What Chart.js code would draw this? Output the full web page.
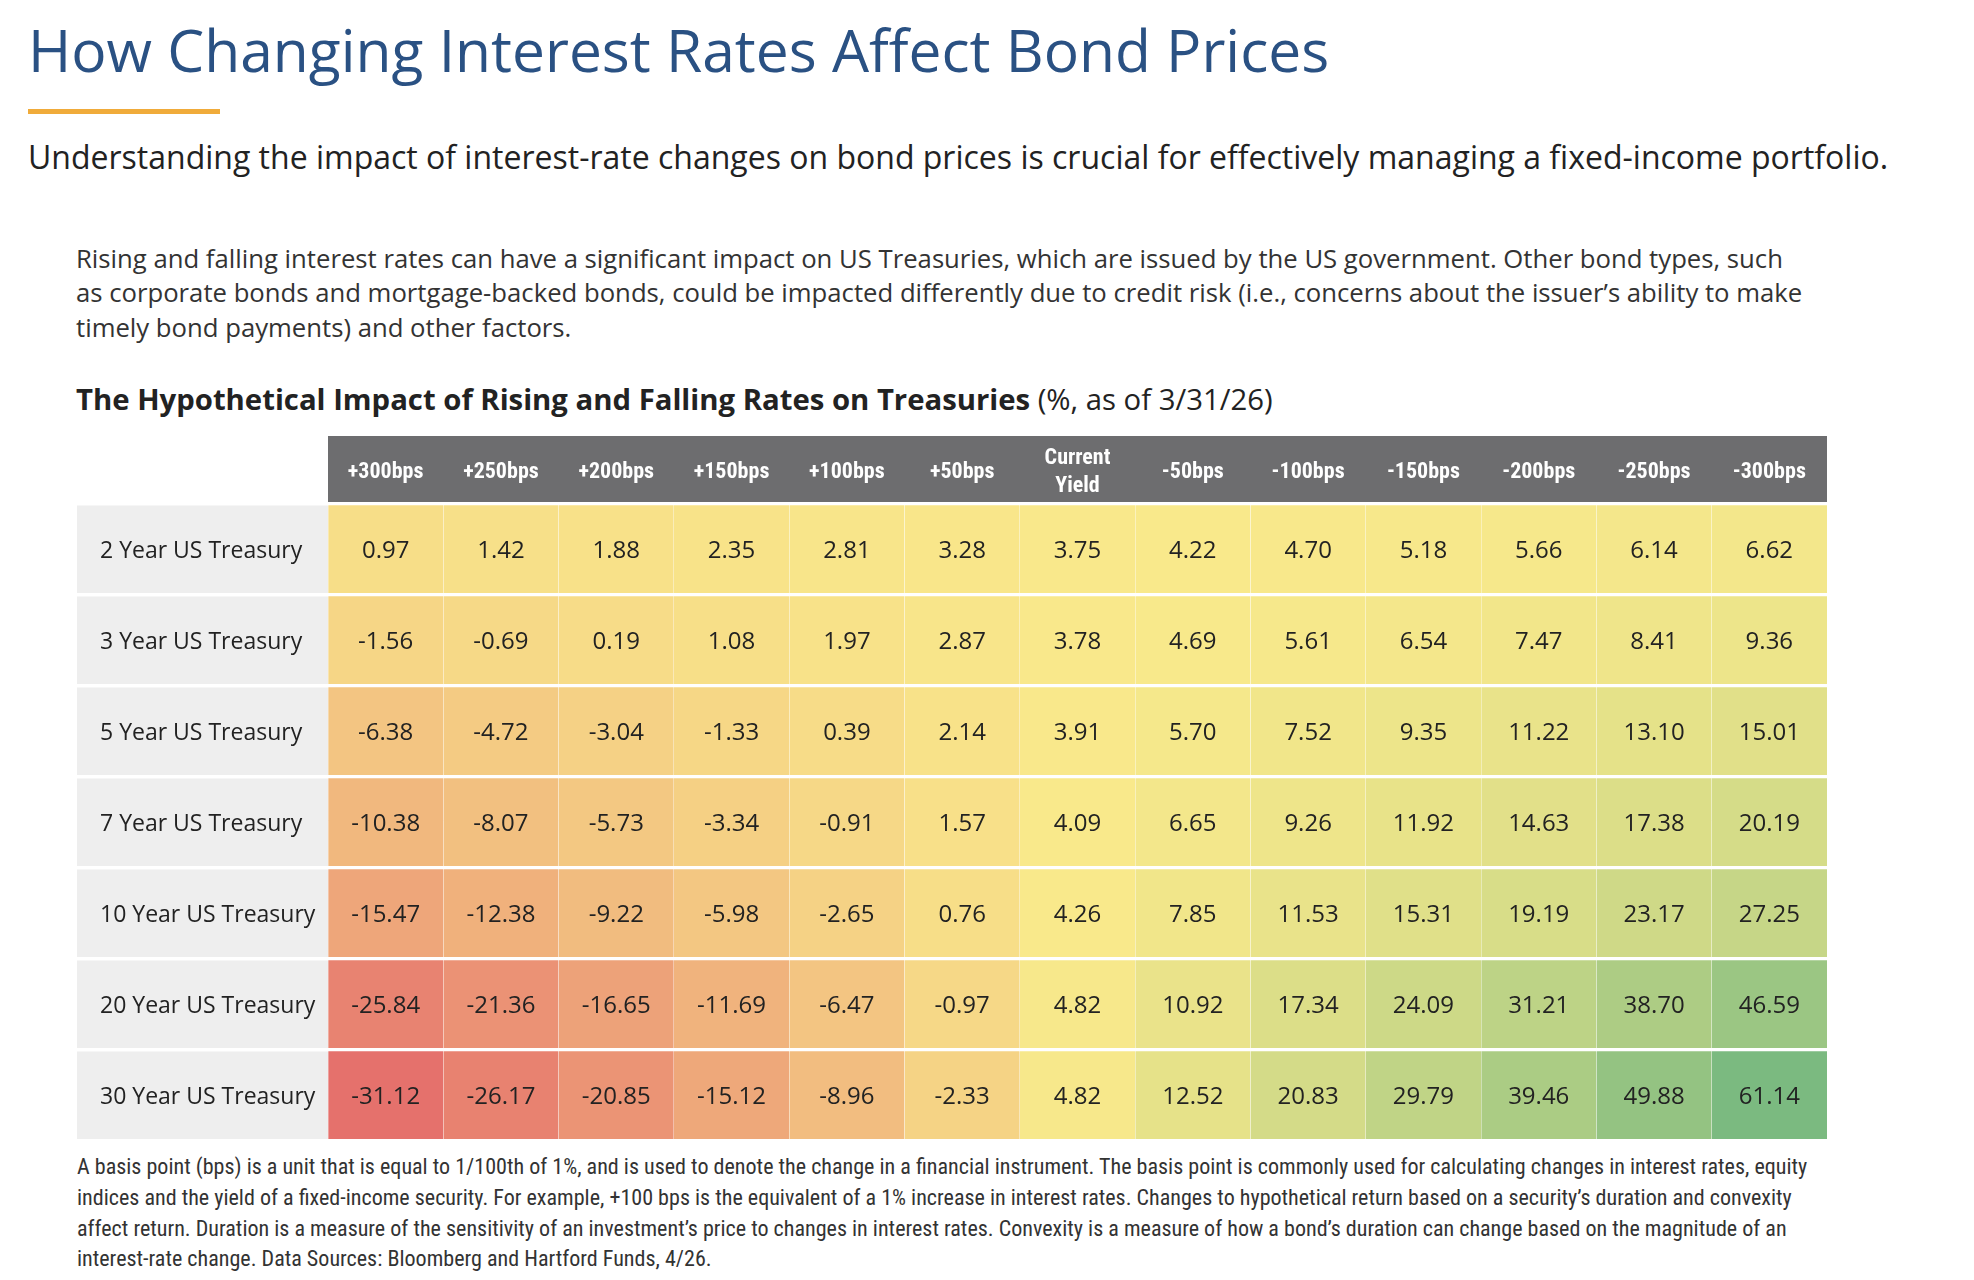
<!DOCTYPE html>
<html>
<head>
<meta charset="utf-8">
<script src="https://cdn.jsdelivr.net/npm/chart.js@4.4.1/dist/chart.umd.min.js"></script>
<style>
  html, body { margin: 0; padding: 0; background: #fff; }
  body { width: 1974px; height: 1280px; position: relative; overflow: hidden; font-family: 'Open Sans', sans-serif; }
  .txt { position: absolute; white-space: nowrap; line-height: normal; }
  #title { left: 28px; top: 9px; font-size: 58.7px; color: #2a5183; }
  #rule { position: absolute; left: 28px; top: 109px; width: 192px; height: 5px; background: #f0ab3a; }
  #subtitle { left: 28px; top: 135px; font-size: 32px; color: #222; }
  #intro { left: 76px; top: 241.5px; font-size: 25.7px; line-height: 34.5px; color: #333; }
  #heading { left: 76px; top: 378.5px; font-size: 29.3px; color: #222; }
  #heading b { font-weight: 700; }
  #note { left: 77px; top: 1152px; font-size: 22px; line-height: 30.8px; color: #333;
          font-family: Roboto, sans-serif; font-stretch: condensed; transform-origin: 0 0; }
  #chartBox { position: absolute; left: 0; top: 0; width: 1974px; height: 1280px; }
</style>
</head>
<body>
<div id="title" class="txt">How Changing Interest Rates Affect Bond Prices</div>
<div id="rule"></div>
<div id="subtitle" class="txt">Understanding the impact of interest-rate changes on bond prices is crucial for effectively managing a fixed-income portfolio.</div>
<div id="intro" class="txt">Rising and falling interest rates can have a significant impact on US Treasuries, which are issued by the US government. Other bond types, such<br>as corporate bonds and mortgage-backed bonds, could be impacted differently due to credit risk (i.e., concerns about the issuer’s ability to make<br>timely bond payments) and other factors.</div>
<div id="heading" class="txt"><b>The Hypothetical Impact of Rising and Falling Rates on Treasuries</b> (%, as of 3/31/26)</div>
<div id="note" class="txt">A basis point (bps) is a unit that is equal to 1/100th of 1%, and is used to denote the change in a financial instrument. The basis point is commonly used for calculating changes in interest rates, equity<br>indices and the yield of a fixed-income security. For example, +100 bps is the equivalent of a 1% increase in interest rates. Changes to hypothetical return based on a security’s duration and convexity<br>affect return. Duration is a measure of the sensitivity of an investment’s price to changes in interest rates. Convexity is a measure of how a bond’s duration can change based on the magnitude of an<br>interest-rate change. Data Sources: Bloomberg and Hartford Funds, 4/26.</div>
<div id="chartBox"><canvas id="grid" width="1974" height="1280"></canvas></div>

<script>
// rate scenarios (columns) and treasuries (rows)
const scenarios = ['+300bps', '+250bps', '+200bps', '+150bps', '+100bps', '+50bps', ['Current', 'Yield'],
  '-50bps', '-100bps', '-150bps', '-200bps', '-250bps', '-300bps'];
const treasuries = ['2 Year US Treasury', '3 Year US Treasury', '5 Year US Treasury', '7 Year US Treasury',
  '10 Year US Treasury', '20 Year US Treasury', '30 Year US Treasury'];

const year2 = [0.97, 1.42, 1.88, 2.35, 2.81, 3.28, 3.75, 4.22, 4.70, 5.18, 5.66, 6.14, 6.62];
const year3 = [-1.56, -0.69, 0.19, 1.08, 1.97, 2.87, 3.78, 4.69, 5.61, 6.54, 7.47, 8.41, 9.36];
const year5 = [-6.38, -4.72, -3.04, -1.33, 0.39, 2.14, 3.91, 5.70, 7.52, 9.35, 11.22, 13.10, 15.01];
const year7 = [-10.38, -8.07, -5.73, -3.34, -0.91, 1.57, 4.09, 6.65, 9.26, 11.92, 14.63, 17.38, 20.19];
const year10 = [-15.47, -12.38, -9.22, -5.98, -2.65, 0.76, 4.26, 7.85, 11.53, 15.31, 19.19, 23.17, 27.25];
const year20 = [-25.84, -21.36, -16.65, -11.69, -6.47, -0.97, 4.82, 10.92, 17.34, 24.09, 31.21, 38.70, 46.59];
const year30 = [-31.12, -26.17, -20.85, -15.12, -8.96, -2.33, 4.82, 12.52, 20.83, 29.79, 39.46, 49.88, 61.14];

const rows = [year2, year3, year5, year7, year10, year20, year30];

// three colour scale: lowest red, median yellow, highest green
const LOW = [229, 113, 108];
const MID = [249, 233, 139];
const HIGH = [123, 186, 128];
const GAP = 3.5;

const all = rows.flat().slice().sort((a, b) => a - b);
const vMin = all[0];
const vMax = all[all.length - 1];
const vMid = all[Math.floor(all.length / 2)];

function mix(a, b, t) {
  return 'rgb(' + a.map((c, i) => Math.round(c + (b[i] - c) * t)).join(',') + ')';
}
function cellColor(v) {
  if (v <= vMid) return mix(LOW, MID, (v - vMin) / (vMid - vMin));
  return mix(MID, HIGH, (v - vMid) / (vMax - vMid));
}

// footnote font is a condensed face: squeeze the block to the width of the original
const note = document.getElementById('note');
note.style.transform = 'scaleX(' + (1730 / note.scrollWidth) + ')';

const tableDecor = {
  id: 'tableDecor',
  beforeDraw(chart) {
    const { ctx, chartArea, scales } = chart;
    const x = scales.x, y = scales.y;
    ctx.save();
    ctx.fillStyle = '#6d6d6f';
    ctx.fillRect(chartArea.left, x.top, chartArea.right - chartArea.left, x.bottom - x.top);
    ctx.fillStyle = '#eeeeee';
    treasuries.forEach((t, r) => {
      const top = y.getPixelForValue(r), bot = y.getPixelForValue(r + 1);
      ctx.fillRect(77, top + GAP, chartArea.left - 77, bot - top - GAP);
    });
    ctx.restore();
  },
  afterDatasetsDraw(chart) {
    const { ctx } = chart;
    ctx.save();
    ctx.fillStyle = '#222';
    ctx.font = "24px 'Open Sans'";
    ctx.textAlign = 'center';
    ctx.textBaseline = 'middle';
    chart.data.datasets.forEach((ds, r) => {
      chart.getDatasetMeta(r).data.forEach((bar, c) => {
        const top = Math.min(bar.y, bar.base), bot = Math.max(bar.y, bar.base);
        ctx.fillText(ds.data[c].v.toFixed(2), bar.x, (top + GAP + bot) / 2 + 2);
      });
    });
    ctx.restore();
  }
};

new Chart(document.getElementById('grid'), {
  type: 'bar',
  data: {
    labels: scenarios,
    datasets: rows.map((vals, r) => ({
      label: treasuries[r],
      data: vals.map((v, c) => ({ x: c, y: [r, r + 1], v: v })),
      backgroundColor: ctx => cellColor(ctx.raw.v),
      borderColor: '#ffffff',
      borderWidth: { top: GAP, right: 0, bottom: 0, left: 0 },
      borderSkipped: false,
      grouped: false,
      barPercentage: 1,
      categoryPercentage: 1
    }))
  },
  options: {
    responsive: false,
    animation: false,
    events: [],
    layout: { padding: { left: 100, top: 436, right: 147, bottom: 141 } },
    plugins: { legend: { display: false }, tooltip: { enabled: false } },
    scales: {
      x: {
        position: 'top',
        offset: true,
        grid: { offset: true, drawTicks: false, z: 1, color: 'rgba(255,255,255,0.35)', lineWidth: 1 },
        border: { display: false },
        ticks: {
          color: '#ffffff',
          padding: 16,
          crossAlign: 'center',
          maxRotation: 0,
          autoSkip: false,
          font: { family: 'Roboto, sans-serif', weight: 'bold condensed', size: 22, lineHeight: 1.25 }
        },
        afterFit: s => { s.height = 66; }
      },
      y: {
        display: false,
        min: 0,
        max: treasuries.length,
        reverse: true
      },
      rowNames: {
        type: 'category',
        axis: 'y',
        position: 'left',
        labels: treasuries,
        offset: true,
        grid: { display: false },
        border: { display: false },
        ticks: {
          color: '#222',
          crossAlign: 'far',
          padding: 0,
          labelOffset: 4,
          font: { family: "'Open Sans'", size: 23 }
        },
        afterFit: s => { s.width = 228; }
      }
    }
  },
  plugins: [tableDecor]
});
</script>
</body>
</html>
